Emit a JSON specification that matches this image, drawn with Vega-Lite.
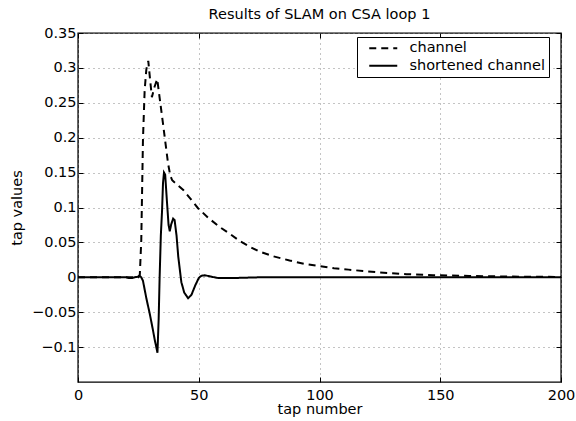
{
  "$schema": "https://vega.github.io/schema/vega-lite/v6.json",
  "width": 483,
  "height": 349,
  "autosize": "none",
  "padding": {"left": 78, "top": 33, "right": 15, "bottom": 39},
  "background": "white",
  "title": {"text": "Results of SLAM on CSA loop 1", "anchor": "middle", "fontSize": 14.5, "fontWeight": "normal", "font": "DejaVu Sans", "color": "black", "offset": 3},
  "datasets": {
    "taps": [
      {"tap": 0, "value": 0, "series": "channel"},
      {"tap": 20, "value": 0, "series": "channel"},
      {"tap": 25, "value": 0, "series": "channel"},
      {"tap": 25.6, "value": 0.004, "series": "channel"},
      {"tap": 26.2, "value": 0.053, "series": "channel"},
      {"tap": 26.9, "value": 0.197, "series": "channel"},
      {"tap": 27.6, "value": 0.268, "series": "channel"},
      {"tap": 28.3, "value": 0.298, "series": "channel"},
      {"tap": 29.1, "value": 0.31, "series": "channel"},
      {"tap": 29.8, "value": 0.285, "series": "channel"},
      {"tap": 30.6, "value": 0.258, "series": "channel"},
      {"tap": 31.7, "value": 0.273, "series": "channel"},
      {"tap": 32.8, "value": 0.284, "series": "channel"},
      {"tap": 34, "value": 0.252, "series": "channel"},
      {"tap": 35.2, "value": 0.22, "series": "channel"},
      {"tap": 36.3, "value": 0.19, "series": "channel"},
      {"tap": 37.3, "value": 0.163, "series": "channel"},
      {"tap": 38.2, "value": 0.146, "series": "channel"},
      {"tap": 39, "value": 0.139, "series": "channel"},
      {"tap": 41, "value": 0.133, "series": "channel"},
      {"tap": 43.6, "value": 0.125, "series": "channel"},
      {"tap": 46, "value": 0.115, "series": "channel"},
      {"tap": 49.7, "value": 0.099, "series": "channel"},
      {"tap": 54, "value": 0.085, "series": "channel"},
      {"tap": 58.7, "value": 0.072, "series": "channel"},
      {"tap": 63, "value": 0.062, "series": "channel"},
      {"tap": 67, "value": 0.052, "series": "channel"},
      {"tap": 71, "value": 0.044, "series": "channel"},
      {"tap": 75, "value": 0.037, "series": "channel"},
      {"tap": 81, "value": 0.03, "series": "channel"},
      {"tap": 87.6, "value": 0.024, "series": "channel"},
      {"tap": 94, "value": 0.019, "series": "channel"},
      {"tap": 100, "value": 0.016, "series": "channel"},
      {"tap": 106, "value": 0.013, "series": "channel"},
      {"tap": 112, "value": 0.011, "series": "channel"},
      {"tap": 118, "value": 0.009, "series": "channel"},
      {"tap": 125, "value": 0.007, "series": "channel"},
      {"tap": 136, "value": 0.0045, "series": "channel"},
      {"tap": 147, "value": 0.003, "series": "channel"},
      {"tap": 162, "value": 0.002, "series": "channel"},
      {"tap": 180, "value": 0.001, "series": "channel"},
      {"tap": 200, "value": 0.0005, "series": "channel"},
      {"tap": 0, "value": 0, "series": "shortened channel"},
      {"tap": 20, "value": 0, "series": "shortened channel"},
      {"tap": 21, "value": -0.001, "series": "shortened channel"},
      {"tap": 22.5, "value": -0.001, "series": "shortened channel"},
      {"tap": 23.5, "value": 0, "series": "shortened channel"},
      {"tap": 25, "value": 0.001, "series": "shortened channel"},
      {"tap": 25.6, "value": 0.002, "series": "shortened channel"},
      {"tap": 26.2, "value": 0, "series": "shortened channel"},
      {"tap": 26.9, "value": -0.005, "series": "shortened channel"},
      {"tap": 28.3, "value": -0.03, "series": "shortened channel"},
      {"tap": 29.7, "value": -0.052, "series": "shortened channel"},
      {"tap": 31, "value": -0.075, "series": "shortened channel"},
      {"tap": 31.8, "value": -0.09, "series": "shortened channel"},
      {"tap": 32.9, "value": -0.108, "series": "shortened channel"},
      {"tap": 33.4, "value": -0.06, "series": "shortened channel"},
      {"tap": 33.8, "value": 0, "series": "shortened channel"},
      {"tap": 34.3, "value": 0.06, "series": "shortened channel"},
      {"tap": 34.8, "value": 0.095, "series": "shortened channel"},
      {"tap": 35.2, "value": 0.135, "series": "shortened channel"},
      {"tap": 35.6, "value": 0.15, "series": "shortened channel"},
      {"tap": 36.1, "value": 0.147, "series": "shortened channel"},
      {"tap": 36.8, "value": 0.11, "series": "shortened channel"},
      {"tap": 37.5, "value": 0.075, "series": "shortened channel"},
      {"tap": 38, "value": 0.066, "series": "shortened channel"},
      {"tap": 38.6, "value": 0.076, "series": "shortened channel"},
      {"tap": 39.4, "value": 0.084, "series": "shortened channel"},
      {"tap": 40, "value": 0.082, "series": "shortened channel"},
      {"tap": 40.8, "value": 0.06, "series": "shortened channel"},
      {"tap": 41.5, "value": 0.03, "series": "shortened channel"},
      {"tap": 42.8, "value": -0.007, "series": "shortened channel"},
      {"tap": 44, "value": -0.022, "series": "shortened channel"},
      {"tap": 45.6, "value": -0.03, "series": "shortened channel"},
      {"tap": 47, "value": -0.025, "series": "shortened channel"},
      {"tap": 48.5, "value": -0.012, "series": "shortened channel"},
      {"tap": 50, "value": -0.001, "series": "shortened channel"},
      {"tap": 51, "value": 0.002, "series": "shortened channel"},
      {"tap": 52.5, "value": 0.003, "series": "shortened channel"},
      {"tap": 55, "value": 0.001, "series": "shortened channel"},
      {"tap": 58, "value": -0.001, "series": "shortened channel"},
      {"tap": 65, "value": -0.001, "series": "shortened channel"},
      {"tap": 75, "value": 0, "series": "shortened channel"},
      {"tap": 200, "value": 0, "series": "shortened channel"}
    ]
  },
  "data": {"name": "taps"},
  "layer": [
    {
      "mark": {"type": "line", "color": "black", "strokeWidth": 2, "clip": true},
      "encoding": {
        "x": {"field": "tap", "type": "quantitative", "scale": {"domain": [0, 200], "nice": false},
          "axis": {"orient": "bottom", "values": [0, 50, 100, 150, 200], "title": "tap number", "titlePadding": 1, "labelPadding": 11, "labelFlush": false}},
        "y": {"field": "value", "type": "quantitative", "scale": {"domain": [-0.15, 0.35], "nice": false, "zero": false},
          "axis": {"orient": "left", "values": [-0.1, -0.05, 0, 0.05, 0.1, 0.15, 0.2, 0.25, 0.3, 0.35], "format": "~g", "title": "tap values", "titlePadding": 7, "labelPadding": 7, "labelFlush": false}},
        "strokeDash": {"field": "series", "type": "nominal",
          "scale": {"domain": ["channel", "shortened channel"], "range": [[7, 5], [1, 0]]},
          "legend": {"title": null, "orient": "none", "legendX": 279, "legendY": 4, "symbolType": "M-2.8,0H2.8", "symbolSize": 100, "symbolStrokeWidth": 2, "symbolStrokeColor": "black", "symbolOffset": 15, "labelOffset": 19, "labelFontSize": 14.5, "labelFont": "DejaVu Sans", "labelColor": "black", "strokeColor": "black", "fillColor": "white", "padding": 4, "rowPadding": 2.5}}
      }
    },
    {
      "mark": {"type": "line", "strokeOpacity": 0},
      "encoding": {
        "x": {"field": "tap", "type": "quantitative",
          "axis": {"orient": "top", "values": [0, 50, 100, 150, 200], "labels": false, "grid": false, "title": null, "domain": false}},
        "y": {"field": "value", "type": "quantitative",
          "axis": {"orient": "right", "values": [-0.1, -0.05, 0, 0.05, 0.1, 0.15, 0.2, 0.25, 0.3, 0.35], "labels": false, "grid": false, "title": null, "domain": false}},
        "detail": {"field": "series", "type": "nominal"}
      }
    }
  ],
  "resolve": {"axis": {"x": "independent", "y": "independent"}},
  "config": {
    "view": {"stroke": "black", "strokeWidth": 1.4},
    "axis": {
      "domain": false,
      "grid": true,
      "gridColor": "#888888",
      "gridDash": [1, 4],
      "gridWidth": 1,
      "gridOpacity": 1,
      "ticks": true,
      "tickSize": -5,
      "tickColor": "black",
      "tickWidth": 1,
      "labelFont": "DejaVu Sans",
      "labelFontSize": 14.5,
      "labelColor": "black",
      "titleFont": "DejaVu Sans",
      "titleFontSize": 14.5,
      "titleFontWeight": "normal",
      "titleColor": "black"
    }
  }
}
